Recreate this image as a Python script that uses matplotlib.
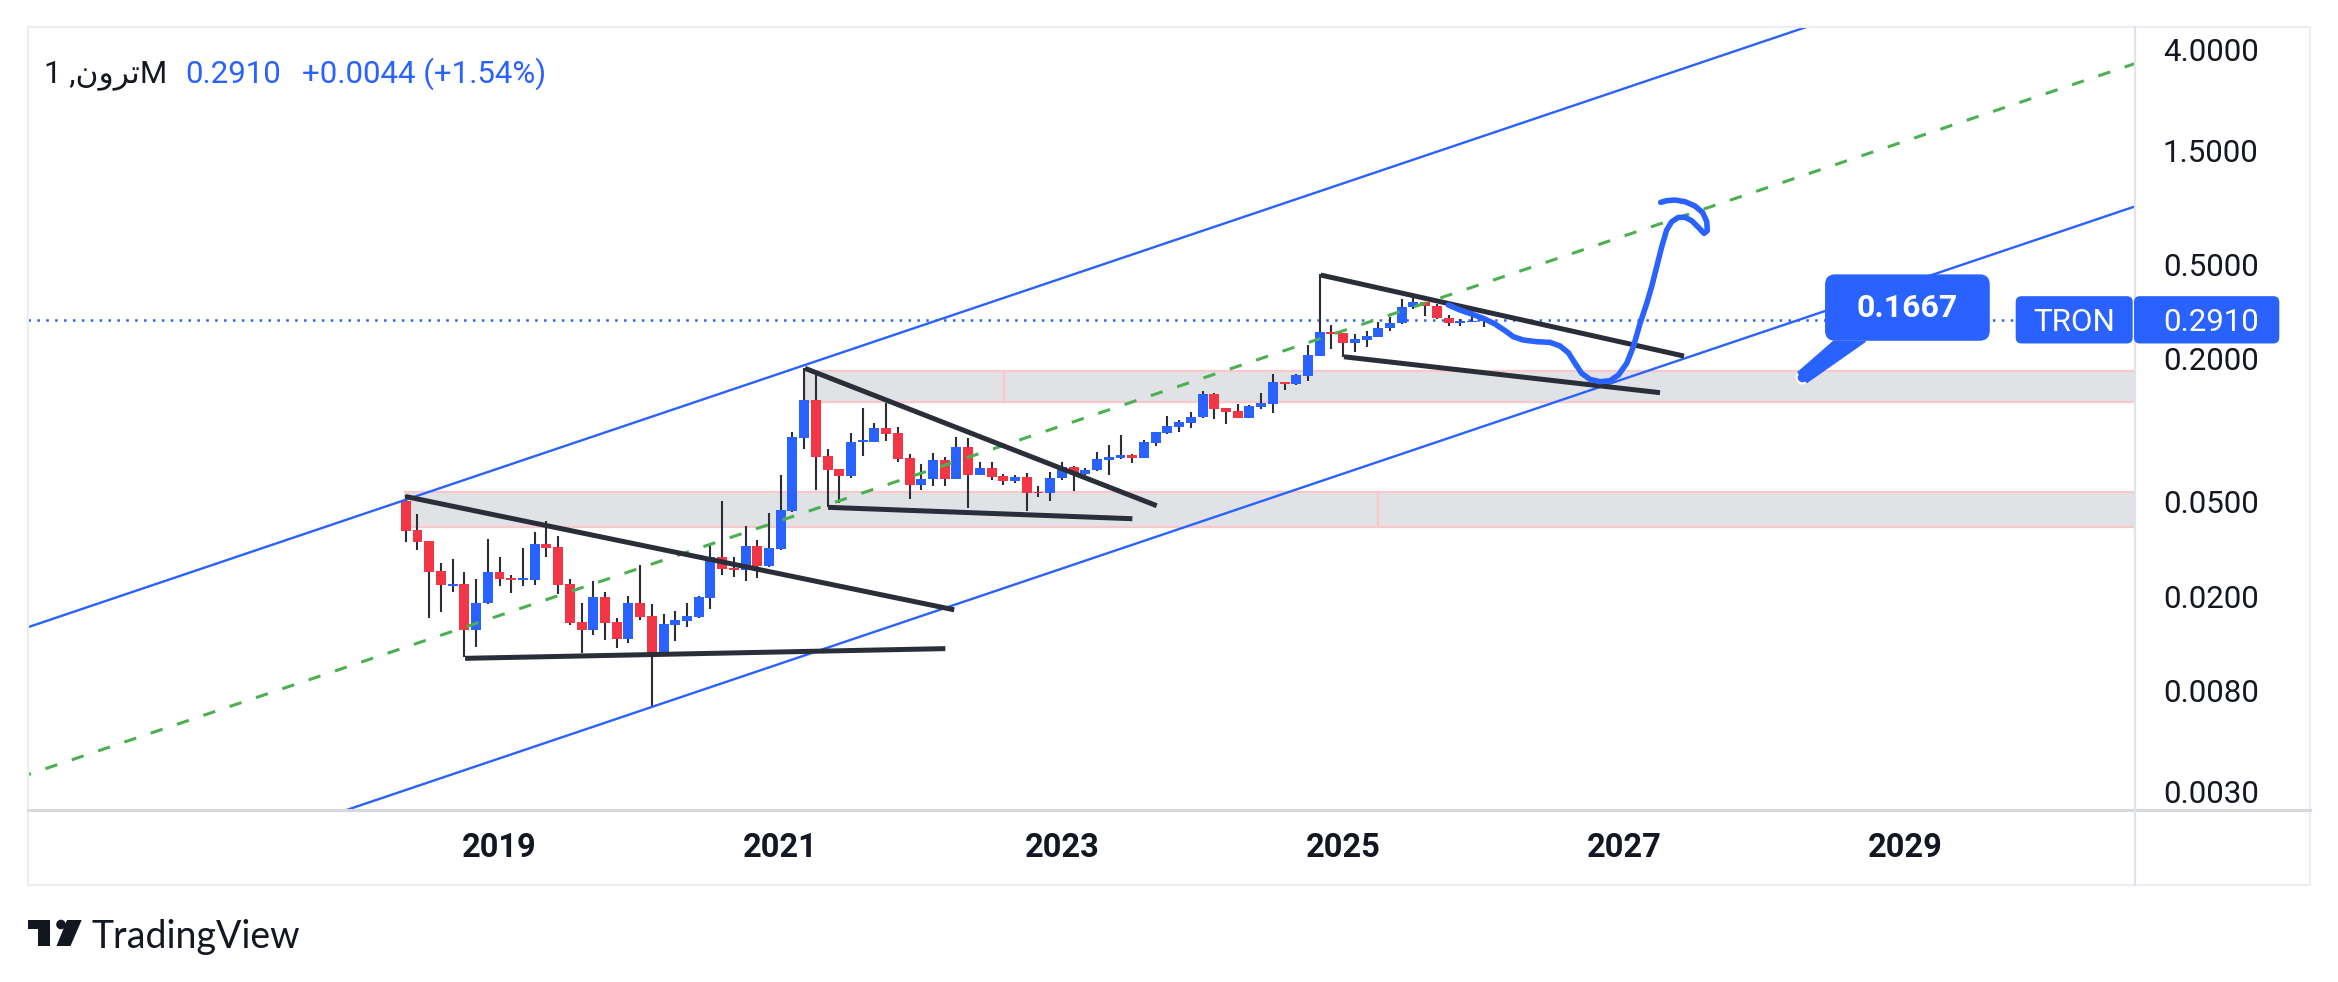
import numpy as np
import pandas as pd
import matplotlib
matplotlib.use('Agg')
import matplotlib.pyplot as plt
from matplotlib.patches import Rectangle, FancyBboxPatch, Polygon, Ellipse
from matplotlib.lines import Line2D
from matplotlib.ticker import NullLocator

plt.rcParams['lines.scale_dashes'] = False

# ---- data (TRX monthly, May 2018 .. Jan 2026) ----
months = pd.date_range('2018-05-01', periods=93, freq='MS')
opens = [0.0503, 0.0380, 0.0342, 0.0255, 0.0221, 0.0225, 0.0144, 0.0187, 0.0253, 0.0239,
         0.0234, 0.0235, 0.0332, 0.0322, 0.0225, 0.0156, 0.0144, 0.0199, 0.0156, 0.0132,
         0.0187, 0.0165, 0.0115, 0.0151, 0.0157, 0.0164, 0.0197, 0.0293, 0.0263, 0.0258,
         0.0326, 0.0268, 0.0316, 0.0457, 0.0927, 0.1339, 0.0778, 0.0686, 0.0641, 0.0891,
         0.0895, 0.1021, 0.0973, 0.0763, 0.0588, 0.0620, 0.0749, 0.0623, 0.0849, 0.0648,
         0.0693, 0.0638, 0.0611, 0.0635, 0.0549, 0.0542, 0.0626, 0.0700, 0.0654, 0.0676,
         0.0752, 0.0766, 0.0786, 0.0765, 0.0885, 0.0975, 0.1035, 0.1075, 0.1130, 0.1419,
         0.1233, 0.1200, 0.1125, 0.1255, 0.1290, 0.1594, 0.1564, 0.1689, 0.2060, 0.2587,
         0.2562, 0.2326, 0.2400, 0.2475, 0.2680, 0.2823, 0.3296, 0.3460, 0.3328, 0.2963,
         0.2823, 0.2845, 0.2866]
highs = [0.0534, 0.0444, 0.0342, 0.0276, 0.0287, 0.0253, 0.0237, 0.0348, 0.0293, 0.0246,
         0.0319, 0.0373, 0.0415, 0.0359, 0.0237, 0.0187, 0.0232, 0.0209, 0.0162, 0.0201,
         0.0271, 0.0186, 0.0168, 0.0173, 0.0187, 0.0201, 0.0329, 0.0503, 0.0293, 0.0395,
         0.0345, 0.0448, 0.0648, 0.0982, 0.1826, 0.1739, 0.0833, 0.0686, 0.0973, 0.1239,
         0.1072, 0.1301, 0.1031, 0.0794, 0.0720, 0.0801, 0.0771, 0.0936, 0.0927, 0.0734,
         0.0734, 0.0654, 0.0648, 0.0660, 0.0582, 0.0667, 0.0734, 0.0707, 0.0693, 0.0809,
         0.0866, 0.0954, 0.0794, 0.0909, 0.0982, 0.1147, 0.1103, 0.1192, 0.1461, 0.1433,
         0.1239, 0.1288, 0.1276, 0.1433, 0.1723, 0.1600, 0.1723, 0.2281, 0.4538, 0.2769,
         0.2570, 0.2538, 0.2613, 0.2851, 0.2992, 0.3562, 0.3667, 0.3470, 0.3393, 0.3050,
         0.2934, 0.3202, 0.2957]
lows = [0.0338, 0.0313, 0.0162, 0.0172, 0.0209, 0.0111, 0.0122, 0.0186, 0.0221, 0.0207,
        0.0221, 0.0223, 0.0293, 0.0205, 0.0151, 0.0115, 0.0137, 0.0131, 0.0121, 0.0127,
        0.0159, 0.0069, 0.0115, 0.0130, 0.0149, 0.0162, 0.0177, 0.0246, 0.0241, 0.0232,
        0.0239, 0.0266, 0.0313, 0.0452, 0.0833, 0.0560, 0.0475, 0.0494, 0.0629, 0.0778,
        0.0891, 0.0900, 0.0734, 0.0513, 0.0560, 0.0582, 0.0582, 0.0623, 0.0470, 0.0648,
        0.0617, 0.0588, 0.0599, 0.0457, 0.0523, 0.0503, 0.0617, 0.0555, 0.0648, 0.0673,
        0.0648, 0.0756, 0.0727, 0.0763, 0.0858, 0.0963, 0.0982, 0.1021, 0.1125, 0.1114,
        0.1061, 0.1122, 0.1122, 0.1227, 0.1181, 0.1475, 0.1548, 0.1610, 0.2051, 0.2195,
        0.2031, 0.2132, 0.2237, 0.2465, 0.2613, 0.2796, 0.3233, 0.3021, 0.2934, 0.2742,
        0.2742, 0.2845, 0.2727]
closes = [0.0376, 0.0338, 0.0253, 0.0223, 0.0225, 0.0144, 0.0187, 0.0253, 0.0237, 0.0234,
          0.0239, 0.0332, 0.0319, 0.0223, 0.0154, 0.0144, 0.0199, 0.0154, 0.0132, 0.0187,
          0.0164, 0.0115, 0.0153, 0.0159, 0.0165, 0.0199, 0.0293, 0.0261, 0.0258, 0.0326,
          0.0268, 0.0319, 0.0461, 0.0936, 0.1339, 0.0771, 0.0680, 0.0641, 0.0891, 0.0909,
          0.1021, 0.0963, 0.0756, 0.0588, 0.0623, 0.0749, 0.0623, 0.0849, 0.0648, 0.0693,
          0.0635, 0.0611, 0.0635, 0.0544, 0.0542, 0.0629, 0.0700, 0.0654, 0.0680, 0.0756,
          0.0771, 0.0786, 0.0763, 0.0891, 0.0982, 0.1041, 0.1082, 0.1136, 0.1419, 0.1227,
          0.1192, 0.1125, 0.1263, 0.1301, 0.1594, 0.1564, 0.1706, 0.2071, 0.2587, 0.2538,
          0.2326, 0.2418, 0.2489, 0.2690, 0.2823, 0.3296, 0.3460, 0.3328, 0.2963, 0.2823,
          0.2878, 0.2866, 0.2910]

last_price = 0.2910
change = 0.0044
change_pct = 1.54
symbol = 'ترون'

year_ticks = [2019, 2021, 2023, 2025, 2027, 2029]
price_ticks = [4.0, 1.5, 0.5, 0.2, 0.05, 0.02, 0.008, 0.003]

# drawings: months counted from Jan 2018
channel_m = [-29, 152]
channel_upper = [0.01438, 14.80]
channel_mid = [0.003447, 3.546]
channel_lower = [0.000863, 0.8879]

trend_m0 = [3.98, 9.06, 38.07, 40.04, 82.09, 84.07]
trend_p0 = [0.05254, 0.01095, 0.18197, 0.04731, 0.4494, 0.2035]
trend_m1 = [50.81, 50.05, 68.09, 66.01, 113.09, 111.04]
trend_p1 = [0.01752, 0.01203, 0.04805, 0.04236, 0.2049, 0.1437]

zone_m0 = [3.94, 87.0, 38.1, 55.07]
zone_m1 = [87.0, 170.0, 55.07, 170.0]
zone_lo = [0.03913, 0.03913, 0.1310, 0.1310]
zone_hi = [0.05508, 0.05508, 0.1773, 0.1773]

path_m = [92.98, 93.97, 94.97, 95.97, 96.96, 97.82, 98.53, 99.38, 100.52, 101.66,
          102.51, 103.22, 103.79, 104.36, 105.07, 105.92, 106.78, 107.49, 108.20, 108.77,
          109.34, 109.91, 110.33, 110.76, 111.19, 111.61, 112.04, 112.61, 113.18, 113.75,
          114.32, 114.80, 115.08, 115.03, 114.69, 114.03, 113.18, 112.32, 111.61, 111.10]
path_p = [0.3361, 0.3201, 0.3079, 0.2953, 0.2795, 0.2621, 0.2471, 0.2393, 0.2355, 0.2340,
          0.2259, 0.2117, 0.1910, 0.1733, 0.1635, 0.1599, 0.1614, 0.1705, 0.1910, 0.2244,
          0.2813, 0.3415, 0.4015, 0.4871, 0.5912, 0.6950, 0.7535, 0.7859, 0.7859, 0.7608,
          0.7132, 0.6730, 0.6907, 0.7535, 0.8223, 0.8770, 0.9146, 0.9297, 0.9237, 0.9088]

callout_m = 123.2
callout_p = 0.1667

# ---- styling ----
BLUE = '#2962ff'
RED = '#f23645'
DARK = '#2a2e39'
TEXT = '#131722'
BORDER = '#e0e3eb'
W, H = 2338, 982
FONT = ['Roboto', 'DejaVu Sans']


def P(x, y):
    # pixel (y down) -> figure fraction
    return (x / W, 1 - y / H)


fig = plt.figure(figsize=(W / 100, H / 100), dpi=100)
fig.patch.set_facecolor('white')
ax = fig.add_axes([28 / W, 1 - 810 / H, (2135 - 28) / W, (810 - 27) / H])
ax.set_yscale('log')
ax.set_xlim(-28.24, 151.58)
ax.set_ylim(0.002518, 4.972)
for s in ax.spines.values():
    s.set_visible(False)

m = np.array([(d.year - 2018) * 12 + d.month - 1 for d in months], dtype=float)
o = np.array(opens)
h = np.array(highs)
l = np.array(lows)
c = np.array(closes)

# zones
for x0, x1, lo, hi in zip(zone_m0, zone_m1, zone_lo, zone_hi):
    ax.add_patch(Rectangle((x0, lo), x1 - x0, hi - lo, facecolor='#e1e2e6',
                           edgecolor='#f8c8cb', lw=1.6, zorder=1))

# candles
ax.vlines(m, l, h, color=DARK, lw=1.5, zorder=3)
body_lo = np.minimum(o, c)
body_hi = np.maximum(np.maximum(o, c), body_lo * 1.016)
colors = [BLUE if cc >= oo else RED for oo, cc in zip(o, c)]
ax.bar(m, body_hi - body_lo, bottom=body_lo, width=0.85, color=colors, lw=0, zorder=3)

# channel
ax.plot(channel_m, channel_upper, color=BLUE, lw=1.7, zorder=4)
ax.plot(channel_m, channel_lower, color=BLUE, lw=1.7, zorder=4)
ax.plot(channel_m, channel_mid, color='#4caf50', lw=2.2, dashes=(9, 11), zorder=4)

# trend lines
for a, b, cc, d in zip(trend_m0, trend_p0, trend_m1, trend_p1):
    ax.plot([a, cc], [b, d], color=DARK, lw=3.6, solid_capstyle='butt', zorder=5)

# last price line
ax.axhline(last_price, color=BLUE, lw=1.8, dashes=(1.8, 4.6), zorder=2)

# freehand projection
ax.plot(path_m, path_p, color=BLUE, lw=4.0, solid_capstyle='round',
        solid_joinstyle='round', zorder=6)

# ticks
ax.set_xticks([(y - 2018) * 12 for y in year_ticks])
ax.set_xticklabels([str(y) for y in year_ticks], fontsize=23.5, fontweight='bold',
                   color=TEXT, family=FONT)
ax.tick_params(axis='x', length=0, pad=16)
ax.yaxis.tick_right()
ax.set_yticks(price_ticks)
ax.set_yticklabels([f'{v:.4f}' for v in price_ticks], fontsize=22.5, color=TEXT, family=FONT)
ax.yaxis.set_minor_locator(NullLocator())
ax.tick_params(axis='y', length=0, pad=20)

# frame lines
fig.add_artist(Rectangle(P(27.7, 885.3), (2310 - 27.7) / W, (885.3 - 27.3) / H,
                         transform=fig.transFigure, fill=False, edgecolor='#eceef2', lw=1.6))
fig.add_artist(Line2D([27.7 / W, 2310 / W], [1 - 810 / H] * 2, transform=fig.transFigure,
                      color='#d6d9e0', lw=2.2))
fig.add_artist(Line2D([2135 / W] * 2, [1 - 27.3 / H, 1 - 885.3 / H], transform=fig.transFigure,
                      color=BORDER, lw=1.6))

# callout with the anchor price
fig.canvas.draw()
axd, ayd = ax.transData.transform((callout_m, callout_p))
cx, cy = axd, H - ayd
tail = [(cx - 4.5, cy - 5), (cx + 4.5, cy + 5), (cx + 63, cy - 36), (cx + 31, cy - 36)]
fig.add_artist(Polygon([P(*q) for q in tail], closed=True, transform=fig.transFigure,
                       facecolor=BLUE, edgecolor=BLUE, lw=1))
bx0, by0 = P(cx + 23.3, cy - 37.3)
fig.add_artist(FancyBboxPatch((bx0, by0), 163.3 / W, 65 / H,
                              boxstyle='round,pad=0,rounding_size=0.004',
                              transform=fig.transFigure, facecolor=BLUE, edgecolor=BLUE,
                              mutation_aspect=W / H))
fig.text(*P(cx + 105, cy - 69.5), f'{callout_p:.4f}', color='white', fontsize=23,
         fontweight='bold', family=FONT, ha='center', va='center')
ax.plot([callout_m], [callout_p], 'o', ms=8.5, mfc=BLUE, mec='white', mew=1.6,
        clip_on=False, zorder=10)

# symbol / last price label on the price scale
lx, ly = ax.transData.transform((0, last_price))
py = H - ly
for x0, x1 in [(2015.7, 2132.7), (2134, 2279.3)]:
    bx, by = P(x0, py + 23.6)
    fig.add_artist(FancyBboxPatch((bx, by), (x1 - x0) / W, 47.3 / H,
                                  boxstyle='round,pad=0,rounding_size=0.0025',
                                  transform=fig.transFigure, facecolor=BLUE, edgecolor='none',
                                  mutation_aspect=W / H, zorder=8))
fig.text(*P(2074, py), 'TRON', color='white', fontsize=22.5, family=FONT,
         ha='center', va='center_baseline', zorder=9)
fig.text(*P(2211, py), f'{last_price:.4f}', color='white', fontsize=22.5, family=FONT,
         ha='center', va='center_baseline', zorder=9)

# legend line at top-left (Arabic name in visual order)
shaped = 'ﻥﻭﺮﺗ'
fig.text(*P(167, 82.7), '1 ,' + shaped + 'M', color=TEXT, fontsize=22.5,
         family=FONT, ha='right', va='baseline')
fig.text(*P(185.7, 82.7), f'{last_price:.4f}', color=BLUE, fontsize=22.5,
         family=FONT, ha='left', va='baseline')
fig.text(*P(301.7, 82.7), f'+{change:.4f} (+{change_pct:.2f}%)', color=BLUE,
         fontsize=22.5, family=FONT, ha='left', va='baseline')

# TradingView watermark
fig.add_artist(Rectangle(P(27.7, 929), 22.3 / W, 9 / H, transform=fig.transFigure,
                         facecolor=TEXT, edgecolor='none'))
fig.add_artist(Rectangle(P(38.3, 946), 11.7 / W, 26 / H, transform=fig.transFigure,
                         facecolor=TEXT, edgecolor='none'))
fig.add_artist(Ellipse(P(61, 924.5), 9.6 / W, 9.6 / H, transform=fig.transFigure,
                       facecolor=TEXT, edgecolor='none'))
fig.add_artist(Polygon([P(67, 920), P(81.7, 920), P(70.5, 946), P(56.5, 946)], closed=True,
                       transform=fig.transFigure, facecolor=TEXT, edgecolor='none'))
fig.text(*P(91.7, 948.3), 'TradingView', color=TEXT, fontsize=27,
         family=['Lato', 'DejaVu Sans'], ha='left', va='baseline')

fig.savefig('out.png', dpi=100, facecolor='white')
